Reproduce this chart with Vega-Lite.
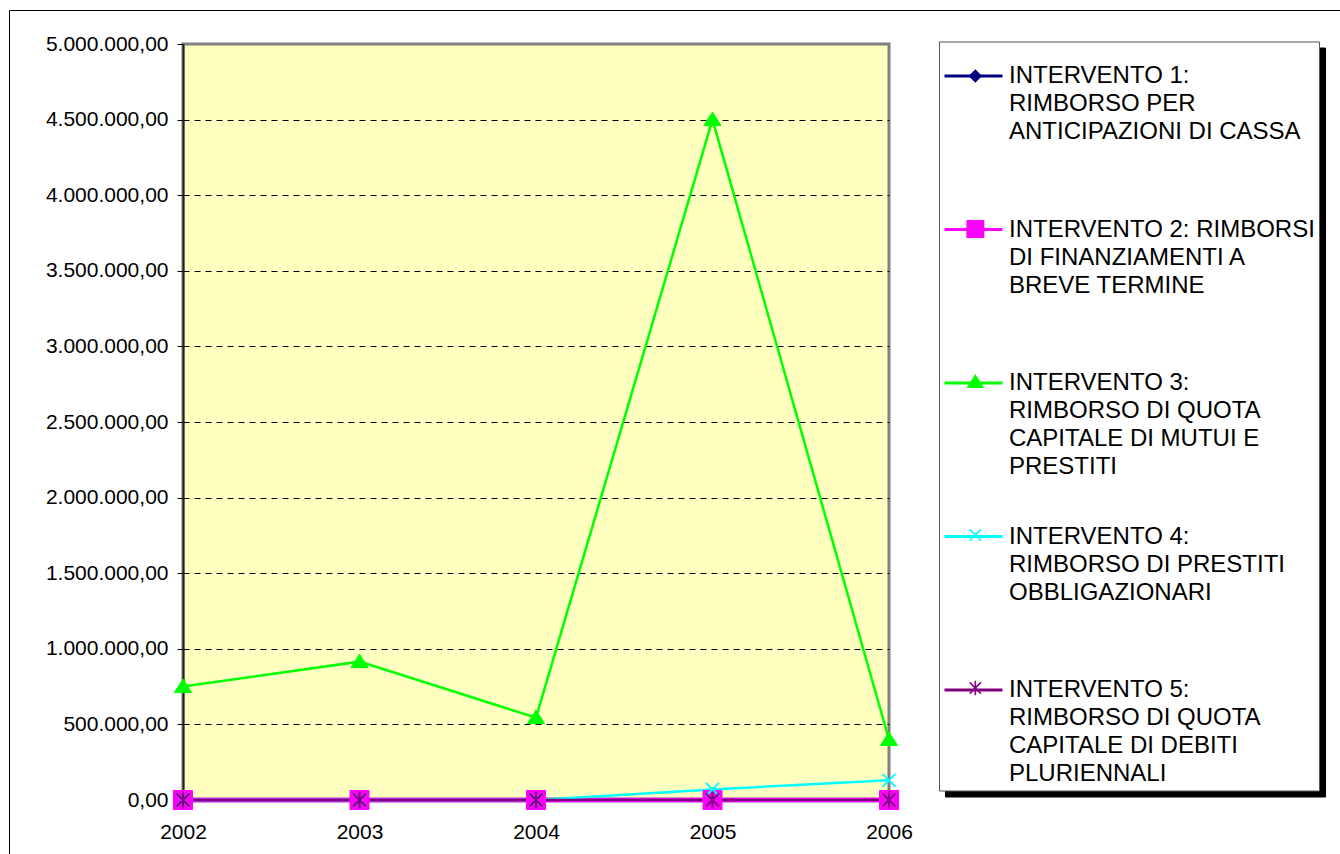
{
  "$schema": "https://vega.github.io/schema/vega-lite/v6.json",
  "width": 706,
  "height": 756,
  "autosize": {"type": "none"},
  "padding": {"left": 183, "top": 44, "right": 451, "bottom": 54},
  "background": "white",
  "config": {
    "locale": {"number": {"decimal": ",", "thousands": ".", "grouping": [3], "currency": ["", " €"]}},
    "font": "Liberation Sans",
    "view": {"fill": "#FFFFC0", "stroke": "#808080", "strokeWidth": 3},
    "style": {"guide-label": {"lineHeight": 28}}
  },
  "resolve": {"legend": {"color": "independent", "shape": "independent", "stroke": "independent"}},
  "data": {
    "values": [
      {"year": "2002", "series": "INTERVENTO 1: RIMBORSO PER ANTICIPAZIONI DI CASSA", "value": 0},
      {"year": "2003", "series": "INTERVENTO 1: RIMBORSO PER ANTICIPAZIONI DI CASSA", "value": 0},
      {"year": "2004", "series": "INTERVENTO 1: RIMBORSO PER ANTICIPAZIONI DI CASSA", "value": 0},
      {"year": "2005", "series": "INTERVENTO 1: RIMBORSO PER ANTICIPAZIONI DI CASSA", "value": 0},
      {"year": "2006", "series": "INTERVENTO 1: RIMBORSO PER ANTICIPAZIONI DI CASSA", "value": 0},
      {"year": "2002", "series": "INTERVENTO 2: RIMBORSI DI FINANZIAMENTI A BREVE TERMINE", "value": 0},
      {"year": "2003", "series": "INTERVENTO 2: RIMBORSI DI FINANZIAMENTI A BREVE TERMINE", "value": 0},
      {"year": "2004", "series": "INTERVENTO 2: RIMBORSI DI FINANZIAMENTI A BREVE TERMINE", "value": 0},
      {"year": "2005", "series": "INTERVENTO 2: RIMBORSI DI FINANZIAMENTI A BREVE TERMINE", "value": 0},
      {"year": "2006", "series": "INTERVENTO 2: RIMBORSI DI FINANZIAMENTI A BREVE TERMINE", "value": 0},
      {"year": "2002", "series": "INTERVENTO 3: RIMBORSO DI QUOTA CAPITALE DI MUTUI E PRESTITI", "value": 750000},
      {"year": "2003", "series": "INTERVENTO 3: RIMBORSO DI QUOTA CAPITALE DI MUTUI E PRESTITI", "value": 915000},
      {"year": "2004", "series": "INTERVENTO 3: RIMBORSO DI QUOTA CAPITALE DI MUTUI E PRESTITI", "value": 545000},
      {"year": "2005", "series": "INTERVENTO 3: RIMBORSO DI QUOTA CAPITALE DI MUTUI E PRESTITI", "value": 4500000},
      {"year": "2006", "series": "INTERVENTO 3: RIMBORSO DI QUOTA CAPITALE DI MUTUI E PRESTITI", "value": 400000},
      {"year": "2002", "series": "INTERVENTO 4: RIMBORSO DI PRESTITI OBBLIGAZIONARI", "value": 0},
      {"year": "2003", "series": "INTERVENTO 4: RIMBORSO DI PRESTITI OBBLIGAZIONARI", "value": 0},
      {"year": "2004", "series": "INTERVENTO 4: RIMBORSO DI PRESTITI OBBLIGAZIONARI", "value": 0},
      {"year": "2005", "series": "INTERVENTO 4: RIMBORSO DI PRESTITI OBBLIGAZIONARI", "value": 70000},
      {"year": "2006", "series": "INTERVENTO 4: RIMBORSO DI PRESTITI OBBLIGAZIONARI", "value": 130000},
      {"year": "2002", "series": "INTERVENTO 5: RIMBORSO DI QUOTA CAPITALE DI DEBITI PLURIENNALI", "value": 0},
      {"year": "2003", "series": "INTERVENTO 5: RIMBORSO DI QUOTA CAPITALE DI DEBITI PLURIENNALI", "value": 0},
      {"year": "2004", "series": "INTERVENTO 5: RIMBORSO DI QUOTA CAPITALE DI DEBITI PLURIENNALI", "value": 0},
      {"year": "2005", "series": "INTERVENTO 5: RIMBORSO DI QUOTA CAPITALE DI DEBITI PLURIENNALI", "value": 0},
      {"year": "2006", "series": "INTERVENTO 5: RIMBORSO DI QUOTA CAPITALE DI DEBITI PLURIENNALI", "value": 0}
    ]
  },
  "encoding": {
    "x": {
      "field": "year", "type": "ordinal",
      "scale": {"type": "point", "padding": 0},
      "axis": {"title": null, "labelAngle": 0, "labelFontSize": 21, "labelColor": "black", "labelFont": "Liberation Sans", "tickSize": 6, "tickColor": "black", "domainColor": "black", "domainWidth": 1.5, "labelPadding": 15, "grid": false}
    },
    "y": {
      "field": "value", "type": "quantitative",
      "scale": {"domain": [0, 5000000], "nice": false},
      "axis": {"title": null, "format": ",.2f", "values": [0, 500000, 1000000, 1500000, 2000000, 2500000, 3000000, 3500000, 4000000, 4500000, 5000000], "labelFontSize": 21, "labelColor": "black", "labelFont": "Liberation Sans", "tickSize": 6, "tickColor": "black", "domainColor": "#222222", "domainWidth": 2, "labelPadding": 9, "grid": true, "gridColor": "black", "gridDash": [6, 5], "gridWidth": 1, "gridOpacity": {"condition": {"test": "datum.value <= 0 || datum.value >= 5000000", "value": 0}, "value": 1}}
    }
  },
  "layer": [
    {
      "transform": [{"filter": {"field": "series", "oneOf": ["INTERVENTO 1: RIMBORSO PER ANTICIPAZIONI DI CASSA", "INTERVENTO 2: RIMBORSI DI FINANZIAMENTI A BREVE TERMINE"]}}],
      "mark": {"type": "line", "strokeWidth": 4.5, "strokeCap": "round"},
      "encoding": {
        "color": {
          "field": "series", "type": "nominal",
          "scale": {
            "domain": ["INTERVENTO 1: RIMBORSO PER ANTICIPAZIONI DI CASSA", "INTERVENTO 2: RIMBORSI DI FINANZIAMENTI A BREVE TERMINE", "INTERVENTO 3: RIMBORSO DI QUOTA CAPITALE DI MUTUI E PRESTITI", "INTERVENTO 4: RIMBORSO DI PRESTITI OBBLIGAZIONARI", "INTERVENTO 5: RIMBORSO DI QUOTA CAPITALE DI DEBITI PLURIENNALI"],
            "range": ["#000080", "#FF00FF", "#00FF00", "#00FFFF", "#800080"]
          },
          "legend": {
            "orient": "none", "legendX": 762, "legendY": 3.5, "direction": "vertical", "columns": 1,
            "title": null,
            "padding": 4, "fillColor": "black", "strokeColor": "black",
            "symbolSize": 3364, "symbolOffset": 0, "symbolStrokeWidth": 3, "symbolOpacity": 0, "labelOpacity": 0,
            "labelOffset": 5, "labelFont": "Liberation Sans", "labelFontSize": 24, "labelColor": "black", "labelLimit": 600, "labelBaseline": "middle", "rowPadding": 26.5,
            "labelExpr": "indexof(datum.value,'INTERVENTO 1')==0 ? ['INTERVENTO 1:','RIMBORSO PER','ANTICIPAZIONI DI CASSA',''] : indexof(datum.value,'INTERVENTO 2')==0 ? ['INTERVENTO 2: RIMBORSI','DI FINANZIAMENTI A','BREVE TERMINE',''] : indexof(datum.value,'INTERVENTO 3')==0 ? ['INTERVENTO 3:','RIMBORSO DI QUOTA','CAPITALE DI MUTUI E','PRESTITI'] : indexof(datum.value,'INTERVENTO 4')==0 ? ['INTERVENTO 4:','RIMBORSO DI PRESTITI','OBBLIGAZIONARI',''] : ['INTERVENTO 5:','RIMBORSO DI QUOTA','CAPITALE DI DEBITI','PLURIENNALI']"
          }
        }
      }
    },
    {
      "transform": [{"filter": {"field": "series", "oneOf": ["INTERVENTO 3: RIMBORSO DI QUOTA CAPITALE DI MUTUI E PRESTITI", "INTERVENTO 4: RIMBORSO DI PRESTITI OBBLIGAZIONARI", "INTERVENTO 5: RIMBORSO DI QUOTA CAPITALE DI DEBITI PLURIENNALI"]}}],
      "mark": {"type": "line", "strokeWidth": 2.5},
      "encoding": {
        "color": {
          "field": "series", "type": "nominal",
          "legend": {
            "orient": "none", "legendX": 756, "legendY": -2.5, "direction": "vertical", "columns": 1,
            "title": null,
            "padding": 4, "fillColor": "white", "strokeColor": "#555555",
            "symbolSize": 3364, "symbolOffset": 0, "symbolStrokeWidth": 3, "symbolOpacity": 1,
            "labelOffset": 5, "labelFont": "Liberation Sans", "labelFontSize": 24, "labelColor": "black", "labelLimit": 600, "labelBaseline": "middle", "rowPadding": 26.5,
            "labelExpr": "indexof(datum.value,'INTERVENTO 1')==0 ? ['INTERVENTO 1:','RIMBORSO PER','ANTICIPAZIONI DI CASSA',''] : indexof(datum.value,'INTERVENTO 2')==0 ? ['INTERVENTO 2: RIMBORSI','DI FINANZIAMENTI A','BREVE TERMINE',''] : indexof(datum.value,'INTERVENTO 3')==0 ? ['INTERVENTO 3:','RIMBORSO DI QUOTA','CAPITALE DI MUTUI E','PRESTITI'] : indexof(datum.value,'INTERVENTO 4')==0 ? ['INTERVENTO 4:','RIMBORSO DI PRESTITI','OBBLIGAZIONARI',''] : ['INTERVENTO 5:','RIMBORSO DI QUOTA','CAPITALE DI DEBITI','PLURIENNALI']"
          }
        }
      }
    },
    {
      "transform": [{"filter": {"field": "series", "oneOf": ["INTERVENTO 1: RIMBORSO PER ANTICIPAZIONI DI CASSA", "INTERVENTO 2: RIMBORSI DI FINANZIAMENTI A BREVE TERMINE", "INTERVENTO 3: RIMBORSO DI QUOTA CAPITALE DI MUTUI E PRESTITI"]}}],
      "mark": {"type": "point", "filled": true, "size": 400, "opacity": 1, "strokeWidth": 1},
      "encoding": {
        "color": {
          "field": "series", "type": "nominal",
          "legend": {
            "orient": "none", "legendX": 756, "legendY": 16, "direction": "vertical", "columns": 1,
            "title": null,
            "padding": 4, "fillColor": "transparent", "strokeColor": "transparent",
            "symbolSize": 300, "symbolOffset": 20.34, "symbolStrokeWidth": 1.5, "symbolOpacity": 1, "labelOpacity": 0,
            "labelOffset": 5, "labelFont": "Liberation Sans", "labelFontSize": 24, "labelColor": "black", "labelLimit": 600, "labelBaseline": "middle", "rowPadding": 45,
            "labelExpr": "['\u00a0','\u00a0','\u00a0','\u00a0']"
          }
        },
        "stroke": {
          "field": "series", "type": "nominal",
          "scale": {
            "domain": ["INTERVENTO 1: RIMBORSO PER ANTICIPAZIONI DI CASSA", "INTERVENTO 2: RIMBORSI DI FINANZIAMENTI A BREVE TERMINE", "INTERVENTO 3: RIMBORSO DI QUOTA CAPITALE DI MUTUI E PRESTITI", "INTERVENTO 4: RIMBORSO DI PRESTITI OBBLIGAZIONARI", "INTERVENTO 5: RIMBORSO DI QUOTA CAPITALE DI DEBITI PLURIENNALI"],
            "range": ["#000080", "#FF00FF", "#00FF00", "#00FFFF", "#800080"]
          }
        },
        "shape": {
          "field": "series", "type": "nominal",
          "scale": {
            "domain": ["INTERVENTO 1: RIMBORSO PER ANTICIPAZIONI DI CASSA", "INTERVENTO 2: RIMBORSI DI FINANZIAMENTI A BREVE TERMINE", "INTERVENTO 3: RIMBORSO DI QUOTA CAPITALE DI MUTUI E PRESTITI", "INTERVENTO 4: RIMBORSO DI PRESTITI OBBLIGAZIONARI", "INTERVENTO 5: RIMBORSO DI QUOTA CAPITALE DI DEBITI PLURIENNALI"],
            "range": [
              "M0,-0.65L0.65,0L0,0.65L-0.65,0Z",
              "M-0.95,-0.95L0.95,-0.95L0.95,0.95L-0.95,0.95Z",
              "M0,-0.75L0.86,0.6L-0.86,0.6Z",
              "M-0.65,-0.65L0.65,0.65M-0.65,0.65L0.65,-0.65",
              "M-0.65,-0.65L0.65,0.65M-0.65,0.65L0.65,-0.65M0,-0.85L0,0.85"
            ]
          }
        }
      }
    },
    {
      "transform": [{"filter": {"field": "series", "equal": "INTERVENTO 4: RIMBORSO DI PRESTITI OBBLIGAZIONARI"}}],
      "mark": {"type": "point", "filled": false, "size": 400, "strokeWidth": 2, "opacity": 1, "shape": "M-0.65,-0.65L0.65,0.65M-0.65,0.65L0.65,-0.65"},
      "encoding": {
        "color": {
          "field": "series", "type": "nominal",
          "legend": {
            "orient": "none", "legendX": -174, "legendY": -34, "title": null,
            "padding": 1600, "fillColor": "transparent", "strokeColor": "black",
            "symbolOpacity": 0, "labelOpacity": 0, "labelExpr": "''"
          }
        }
      }
    },
    {
      "transform": [{"filter": {"field": "series", "equal": "INTERVENTO 5: RIMBORSO DI QUOTA CAPITALE DI DEBITI PLURIENNALI"}}],
      "mark": {"type": "point", "filled": false, "size": 400, "strokeWidth": 2, "opacity": 1, "shape": "M-0.65,-0.65L0.65,0.65M-0.65,0.65L0.65,-0.65M0,-0.85L0,0.85"},
      "encoding": {
        "color": {"field": "series", "type": "nominal", "legend": null}
      }
    }
  ]
}
